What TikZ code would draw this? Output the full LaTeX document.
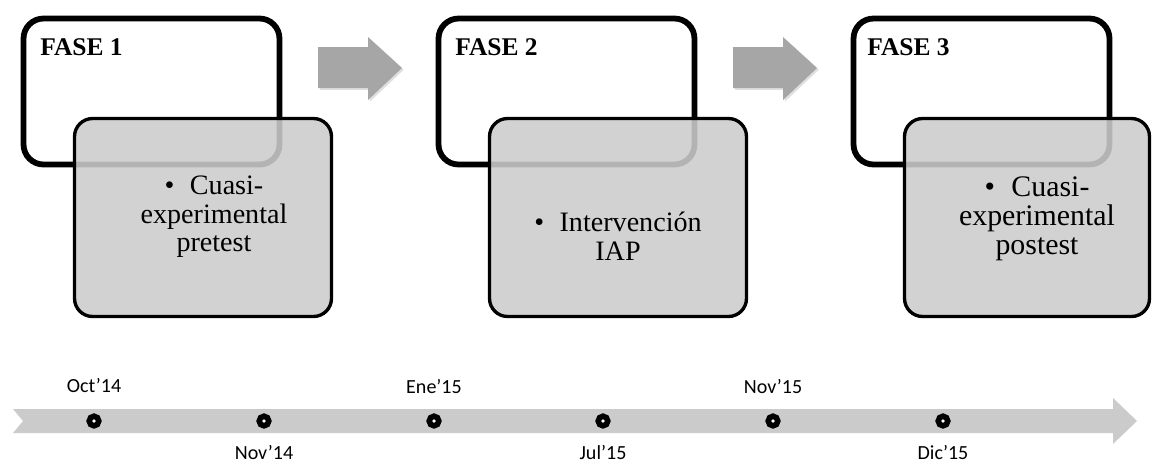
\documentclass[tikz,border=0pt]{standalone}
\usepackage{fontspec}
\setmainfont{Liberation Serif}
\newfontfamily\calibri{Carlito}
\usetikzlibrary{shadows}

\definecolor{cajagris}{HTML}{CCCCCC}
\definecolor{flechagris}{HTML}{A6A6A6}
\definecolor{lineagris}{HTML}{CBCBCB}

\tikzset{
  fase/.style={draw=black,line width=3.3pt,fill=white,rounded corners=0.4cm,
    minimum width=5.12cm,minimum height=2.92cm,inner sep=0,
    drop shadow={shadow xshift=1.2pt,shadow yshift=-1.2pt,opacity=0.3}},
  caja/.style={draw=black,line width=1.9pt,fill=cajagris,fill opacity=0.88,
    rounded corners=0.36cm,minimum height=3.96cm,inner sep=0},
  titulo/.style={anchor=west,inner sep=0,font=\fontsize{14.5pt}{15pt}\selectfont\bfseries},
  texto/.style={align=center,inner sep=0,font=\fontsize{16pt}{16.3pt}\selectfont},
  hito/.style={circle,draw=black,line width=3.2pt,fill=white,minimum size=0.19cm,inner sep=0},
  mes/.style={inner sep=0,font=\calibri\fontsize{11.4pt}{12pt}\selectfont}
}

\begin{document}
\begin{tikzpicture}[x=0.02cm,y=-0.02cm]
  \useasboundingbox (0,0) rectangle (1152,464);
  % flechas entre fases
  \fill[flechagris,drop shadow={shadow xshift=1pt,shadow yshift=-1pt,opacity=0.25}]
    (318,47) -- (368,47) -- (368,37) -- (402,68) -- (368,100) -- (368,88) -- (318,88) -- cycle;
  \fill[flechagris,drop shadow={shadow xshift=1pt,shadow yshift=-1pt,opacity=0.25}]
    (733,47) -- (783,47) -- (783,37) -- (817,68) -- (783,100) -- (783,88) -- (733,88) -- cycle;
  % fase 1
  \node[fase] (fase1) at (151.5,91.5) {};
  \node[titulo] (tit1) at (40,47) {FASE 1};
  \node[caja,minimum width=5.14cm] (caja1) at (203,217.5) {};
  \node[texto] (txt1) at (214,217) {\textbullet\hspace{0.55em}Cuasi-\\experimental\\pretest};
  % fase 2
  \node[fase] (fase2) at (566.5,91.5) {};
  \node[titulo] (tit2) at (455,47) {FASE 2};
  \node[caja,minimum width=5.14cm] (caja2) at (618,217.5) {};
  \node[texto] (txt2) at (618,236) {\textbullet\hspace{0.55em}Intervención\\IAP};
  % fase 3
  \node[fase] (fase3) at (981.5,91.5) {};
  \node[titulo] (tit3) at (867,47) {FASE 3};
  \node[caja,minimum width=4.9cm] (caja3) at (1027,217.5) {};
  \node[texto,font=\fontsize{17pt}{16.5pt}\selectfont] (txt3) at (1037,219) {\textbullet\hspace{0.55em}Cuasi-\\experimental\\postest};
  % linea de tiempo
  \fill[lineagris] (13,409) -- (1113,409) -- (1113,398) -- (1137,421) -- (1113,444)
    -- (1113,433) -- (13,433) -- (23,421) -- cycle;
  \node[hito] (h1) at (94,421) {};
  \node[hito] (h2) at (264,421) {};
  \node[hito] (h3) at (434,421) {};
  \node[hito] (h4) at (603,421) {};
  \node[hito] (h5) at (773,421) {};
  \node[hito] (h6) at (943,421) {};
  \node[mes] (m1) at (94,386) {Oct’14};
  \node[mes] (m2) at (264,452) {Nov’14};
  \node[mes] (m3) at (434,386) {Ene’15};
  \node[mes] (m4) at (603,452) {Jul’15};
  \node[mes] (m5) at (773,386) {Nov’15};
  \node[mes] (m6) at (943,452) {Dic’15};
\end{tikzpicture}
\end{document}
